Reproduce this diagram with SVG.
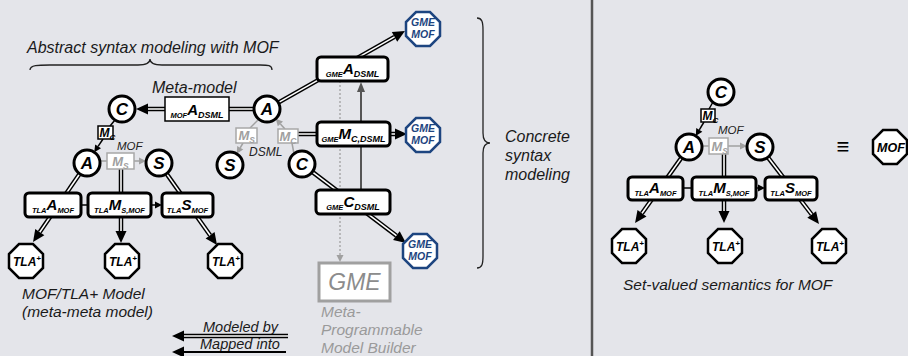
<svg xmlns="http://www.w3.org/2000/svg" xmlns:xlink="http://www.w3.org/1999/xlink" width="908" height="356" viewBox="0 0 908 356">
  <style>
    text { font-family: "Liberation Sans", Arial, sans-serif; font-style: italic; }
    .lbl { font-size: 15.5px; fill: #1a1a1a; }
    .sm { font-size: 12px; fill: #222; }
    .glbl { font-size: 15.5px; fill: #9a9a9a; }
    .circ { fill: #fff; stroke: #000; stroke-width: 3; }
    .ct { font-size: 17px; font-weight: bold; text-anchor: middle; fill: #000; }
    .box { fill: #fff; stroke: #000; stroke-width: 3; }
    .pbox { fill: #fff; stroke: #000; stroke-width: 1.5; }
    .gbox { fill: #fff; stroke: #a8a8a8; stroke-width: 1.5; }
    .bt { font-weight: bold; text-anchor: middle; fill: #000; }
    .gt { font-weight: bold; fill: #a0a0a0; }
    .pre { font-size: 7.5px; }
    .main { font-size: 15px; }
    .post { font-size: 9px; }
    .oct { fill: #fff; stroke: #000; stroke-width: 2.5; }
    .goct { fill: #fff; stroke: #1d4580; stroke-width: 2.5; }
    .ot { font-size: 12px; font-weight: bold; text-anchor: middle; fill: #000; }
    .got { font-size: 10.5px; font-weight: bold; text-anchor: middle; fill: #1d4580; }
    .dlo { stroke: #000; stroke-width: 4.5; fill: none; }
    .dli { stroke: #fff; stroke-width: 1.6; fill: none; }
    .thin { stroke: #000; stroke-width: 1.5; fill: none; }
    .gthin { stroke: #a0a0a0; stroke-width: 1.5; fill: none; }
    .brace { stroke: #222; stroke-width: 1.3; fill: none; }
  </style>
  <defs>
    <polygon id="oct" points="-7,-17 7,-17 17,-7 17,7 7,17 -7,17 -17,7 -17,-7"/>
    <marker id="ah" markerUnits="userSpaceOnUse" markerWidth="14" markerHeight="12" refX="0" refY="6" orient="auto" overflow="visible">
      <path d="M0,0.5 L12,6 L0,11.5 z" fill="#000"/>
    </marker>
    <marker id="ahs" markerUnits="userSpaceOnUse" markerWidth="8" markerHeight="8" refX="0" refY="4" orient="auto" overflow="visible">
      <path d="M0,0.5 L7,4 L0,7.5 z" fill="#000"/>
    </marker>
    <marker id="ahg" markerUnits="userSpaceOnUse" markerWidth="8" markerHeight="8" refX="0" refY="4" orient="auto" overflow="visible">
      <path d="M0,0.5 L7,4 L0,7.5 z" fill="#a0a0a0"/>
    </marker>
    <marker id="ahd" markerUnits="userSpaceOnUse" markerWidth="11" markerHeight="10" refX="0" refY="5" orient="auto" overflow="visible">
      <path d="M0,1 L10,5 L0,9 z" fill="#555"/>
    </marker>
  </defs>

  <rect width="908" height="356" fill="#e4e5ea"/>
  <!-- panel divider -->
  <line x1="592" y1="0" x2="592" y2="356" stroke="#555" stroke-width="2.5"/>

  <!-- braces and captions -->
  <g id="captions">
    <text class="lbl" x="27" y="53" style="font-size:16px">Abstract syntax modeling with MOF</text>
    <path class="brace" d="M30,70 C30,65 38,65 50,65 L138,65 C146,65 150,63 150,59 C150,63 154,65 162,65 L260,65 C268,65 272,65 272,70"/>
    <text class="lbl" x="152" y="93" style="font-size:16px">Meta-model</text>
    <path class="brace" d="M477,18 C482,18 483,22 483,30 L483,133 C483,139 485,143 490,143 C485,143 483,147 483,153 L483,256 C483,264 482,268 477,268"/>
    <text class="lbl" x="505" y="142" style="font-size:16px">Concrete</text>
    <text class="lbl" x="505" y="161" style="font-size:16px">syntax</text>
    <text class="lbl" x="505" y="180" style="font-size:16px">modeling</text>
    <text class="lbl" x="22" y="299">MOF/TLA+ Model</text>
    <text class="lbl" x="22" y="317">(meta-meta model)</text>
    <text class="sm" x="249" y="156">DSML</text>
    <text class="sm" x="117" y="150" style="font-size:11.5px">MOF</text>
    <text class="sm" x="718" y="134" style="font-size:11.5px">MOF</text>
    <text class="glbl" x="321" y="317">Meta-</text>
    <text class="glbl" x="321" y="335">Programmable</text>
    <text class="glbl" x="321" y="353">Model Builder</text>
    <text class="lbl" x="623" y="290">Set-valued semantics for MOF</text>
    <text class="lbl" x="203" y="332" style="font-size:14.5px">Modeled by</text>
    <text class="lbl" x="200" y="349" style="font-size:14.5px">Mapped into</text>
    <text x="843" y="154" style="font-size:22px;font-style:normal;font-weight:bold;text-anchor:middle">≡</text>
  </g>

  <g id="connectors">
    <!-- MOF A_DSML -> C -->
    <line class="dlo" x1="254" y1="109" x2="148" y2="109" marker-end="url(#ah)"/>
    <line class="dli" x1="254" y1="109" x2="148" y2="109"/>
    <!-- A -> GME A_DSML -> GME MOF -->
    <line class="dlo" x1="278.3" y1="102.6" x2="394.5" y2="36.9" marker-end="url(#ah)"/>
    <line class="dli" x1="278.3" y1="102.6" x2="394.5" y2="36.9"/>
    <!-- M_C -> GME M_C,DSML -> GME MOF -->
    <line class="dlo" x1="298" y1="134" x2="395" y2="134" marker-end="url(#ah)"/>
    <line class="dli" x1="298" y1="134" x2="395" y2="134"/>
    <!-- C -> GME C_DSML -> GME MOF -->
    <line class="dlo" x1="312.3" y1="171.9" x2="396.4" y2="235.7" marker-end="url(#ah)"/>
    <line class="dli" x1="312.3" y1="171.9" x2="396.4" y2="235.7"/>
    <!-- GME C_DSML -> GME A_DSML -->
    <line x1="361" y1="190" x2="361" y2="92" stroke="#555" stroke-width="2" marker-end="url(#ahd)"/>
    <!-- GME A_DSML -> GME tool -->
    <line x1="340" y1="81" x2="340" y2="255" stroke="#a0a0a0" stroke-width="1.3" stroke-dasharray="2,2" marker-end="url(#ahg)"/>
    <!-- DSML level: A -> M_S -> S, C -> M_C -> A -->
    <line class="gthin" x1="259" y1="119" x2="250" y2="128"/>
    <line class="gthin" x1="243" y1="143" x2="240.2" y2="147.8" marker-end="url(#ahg)"/>
    <line class="gthin" x1="294" y1="154" x2="292" y2="143"/>
    <line class="gthin" x1="285" y1="129" x2="280.4" y2="123.9" marker-end="url(#ahg)"/>
    <!-- MOF level (left) -->
    <line class="thin" x1="115" y1="120" x2="110" y2="126"/>
    <line class="thin" x1="103" y1="139" x2="98.1" y2="146.4" marker-end="url(#ahs)"/>
    <line class="gthin" x1="100" y1="161" x2="107" y2="161"/>
    <line class="gthin" x1="134" y1="161" x2="139" y2="161" marker-end="url(#ahg)"/>
    <line class="dlo" x1="79.7" y1="173.7" x2="39.8" y2="232.1" marker-end="url(#ah)"/>
    <line class="dli" x1="79.7" y1="173.7" x2="39.8" y2="232.1"/>
    <line class="dlo" x1="121" y1="169" x2="121" y2="231" marker-end="url(#ah)"/>
    <line class="dli" x1="121" y1="169" x2="121" y2="231"/>
    <line class="dlo" x1="166.5" y1="173.6" x2="210.1" y2="235.2" marker-end="url(#ah)"/>
    <line class="dli" x1="166.5" y1="173.6" x2="210.1" y2="235.2"/>
    <line class="thin" x1="81" y1="205" x2="88" y2="205"/>
    <line class="thin" x1="151" y1="205" x2="155" y2="205" marker-end="url(#ahs)"/>
    <!-- MOF level (right) -->
    <line class="thin" x1="713" y1="102" x2="709" y2="109"/>
    <line class="thin" x1="704" y1="122" x2="699.3" y2="129.9" marker-end="url(#ahs)"/>
    <line class="gthin" x1="702" y1="146" x2="709" y2="146"/>
    <line class="gthin" x1="728" y1="146" x2="740" y2="146" marker-end="url(#ahg)"/>
    <line class="dlo" x1="681.5" y1="157.6" x2="642" y2="213.2" marker-end="url(#ah)"/>
    <line class="dli" x1="681.5" y1="157.6" x2="642" y2="213.2"/>
    <line class="dlo" x1="724" y1="154" x2="724" y2="211" marker-end="url(#ah)"/>
    <line class="dli" x1="724" y1="154" x2="724" y2="211"/>
    <line class="dlo" x1="767.9" y1="157.3" x2="811.7" y2="214.5" marker-end="url(#ah)"/>
    <line class="dli" x1="767.9" y1="157.3" x2="811.7" y2="214.5"/>
    <line class="thin" x1="683" y1="188" x2="692" y2="188"/>
    <line class="thin" x1="756" y1="188" x2="758" y2="188" marker-end="url(#ahs)"/>
    <!-- legend -->
    <line class="dlo" x1="288" y1="336" x2="184" y2="336" marker-end="url(#ah)"/>
    <line class="dli" x1="288" y1="336" x2="184" y2="336"/>
    <line x1="286" y1="352" x2="184" y2="352" stroke="#000" stroke-width="2" marker-end="url(#ah)"/>
  </g>

  <!-- DSML meta-model -->
  <g id="c-mof"><circle class="circ" cx="122" cy="109" r="13"/><text class="ct" x="122" y="115">C</text></g>
  <g id="a-dsml"><circle class="circ" cx="267" cy="109" r="13"/><text class="ct" x="267" y="115">A</text></g>
  <g id="mof-a-dsml"><rect class="pbox" x="165" y="97" width="64" height="24"/>
    <text class="bt" x="197" y="115"><tspan class="pre" dy="3">MOF</tspan><tspan class="main" dy="-3">A</tspan><tspan class="post" dy="3">DSML</tspan></text></g>
  <g id="ms-dsml"><rect class="gbox" x="236" y="128" width="21" height="15"/>
    <text class="gt" x="238.5" y="140"><tspan style="font-size:13px">M</tspan><tspan style="font-size:8.5px" dy="2.5">S</tspan></text></g>
  <g id="mc-dsml"><rect class="gbox" x="278" y="129" width="20" height="14"/>
    <text class="gt" x="279.5" y="141"><tspan style="font-size:13px">M</tspan><tspan style="font-size:8.5px" dy="2.5">C</tspan></text></g>
  <g id="s-dsml"><circle class="circ" cx="230" cy="165" r="13"/><text class="ct" x="230" y="171">S</text></g>
  <g id="c-dsml"><circle class="circ" cx="302" cy="164" r="13"/><text class="ct" x="302" y="170">C</text></g>

  <!-- GME side -->
  <g id="gme-a-dsml"><rect class="box" x="317" y="57" width="71" height="24" rx="4"/>
    <text class="bt" x="352.5" y="74"><tspan class="pre" dy="3">GME</tspan><tspan class="main" dy="-3">A</tspan><tspan class="post" dy="3">DSML</tspan></text></g>
  <g id="gme-mc-dsml"><rect class="box" x="317" y="122" width="73" height="24" rx="4"/>
    <text class="bt" x="353.5" y="139"><tspan class="pre" dy="3">GME</tspan><tspan class="main" dy="-3">M</tspan><tspan class="post" dy="3">C,DSML</tspan></text></g>
  <g id="gme-c-dsml"><rect class="box" x="316" y="190" width="74" height="24" rx="4"/>
    <text class="bt" x="353" y="207"><tspan class="pre" dy="3">GME</tspan><tspan class="main" dy="-3">C</tspan><tspan class="post" dy="3">DSML</tspan></text></g>
  <g id="gme-mof-1"><use xlink:href="#oct" x="423" y="29" class="goct"/>
    <text class="got" x="423" y="26">GME</text><text class="got" x="423" y="38">MOF</text></g>
  <g id="gme-mof-2"><use xlink:href="#oct" x="423" y="135" class="goct"/>
    <text class="got" x="423" y="132">GME</text><text class="got" x="423" y="144">MOF</text></g>
  <g id="gme-mof-3"><use xlink:href="#oct" x="420" y="251" class="goct"/>
    <text class="got" x="420" y="248">GME</text><text class="got" x="420" y="260">MOF</text></g>
  <g id="gme-tool"><rect x="319" y="263" width="71" height="38" fill="#fff" stroke="#a0a0a0" stroke-width="3"/>
    <text x="354.5" y="290" style="font-size:23px;fill:#8c8c8c;text-anchor:middle">GME</text></g>

  <!-- MOF/TLA+ model (left) -->
  <g id="mc-mof"><rect class="pbox" x="98" y="126" width="15" height="13"/>
    <text class="bt" x="99.5" y="137" style="text-anchor:start"><tspan style="font-size:12px">M</tspan><tspan style="font-size:8px" dy="3">C</tspan></text></g>
  <g id="a-mof"><circle class="circ" cx="87" cy="163" r="13"/><text class="ct" x="87" y="169">A</text></g>
  <g id="ms-mof"><rect class="gbox" x="107" y="153" width="27" height="16"/>
    <text class="gt" x="120.5" y="166" style="text-anchor:middle"><tspan style="font-size:13px">M</tspan><tspan style="font-size:8.5px" dy="2.5">S</tspan></text></g>
  <g id="s-mof"><circle class="circ" cx="159" cy="163" r="13"/><text class="ct" x="159" y="169">S</text></g>
  <g id="tla-a-mof"><rect class="box" x="25" y="193" width="56" height="24" rx="4"/>
    <text class="bt" x="53" y="210"><tspan class="pre" dy="3">TLA</tspan><tspan class="main" dy="-3">A</tspan><tspan class="pre" dy="3">MOF</tspan></text></g>
  <g id="tla-ms-mof"><rect class="box" x="88" y="193" width="63" height="24" rx="4"/>
    <text class="bt" x="119.5" y="210"><tspan class="pre" dy="3">TLA</tspan><tspan class="main" dy="-3">M</tspan><tspan class="pre" dy="3">S,MOF</tspan></text></g>
  <g id="tla-s-mof"><rect class="box" x="162" y="193" width="51" height="24" rx="4"/>
    <text class="bt" x="187.5" y="210"><tspan class="pre" dy="3">TLA</tspan><tspan class="main" dy="-3">S</tspan><tspan class="pre" dy="3">MOF</tspan></text></g>
  <g id="tla-1"><use xlink:href="#oct" x="26" y="261" class="oct"/>
    <text class="ot" x="27" y="265.5">TLA<tspan style="font-size:8px" dy="-5">+</tspan></text></g>
  <g id="tla-2"><use xlink:href="#oct" x="122" y="261" class="oct"/>
    <text class="ot" x="123" y="265.5">TLA<tspan style="font-size:8px" dy="-5">+</tspan></text></g>
  <g id="tla-3"><use xlink:href="#oct" x="225" y="261" class="oct"/>
    <text class="ot" x="226" y="265.5">TLA<tspan style="font-size:8px" dy="-5">+</tspan></text></g>

  <!-- Set-valued semantics (right) -->
  <g id="c-r"><circle class="circ" cx="721" cy="92" r="13"/><text class="ct" x="721" y="98">C</text></g>
  <g id="mc-r"><rect class="pbox" x="701" y="109" width="14" height="13"/>
    <text class="bt" x="702.5" y="120" style="text-anchor:start"><tspan style="font-size:12px">M</tspan><tspan style="font-size:8px" dy="3">C</tspan></text></g>
  <g id="a-r"><circle class="circ" cx="689" cy="147" r="13"/><text class="ct" x="689" y="153">A</text></g>
  <g id="ms-r"><rect class="gbox" x="709" y="138" width="19" height="16"/>
    <text class="gt" x="711.5" y="151"><tspan style="font-size:13px">M</tspan><tspan style="font-size:8.5px" dy="2.5">S</tspan></text></g>
  <g id="s-r"><circle class="circ" cx="760" cy="147" r="13"/><text class="ct" x="760" y="153">S</text></g>
  <g id="tla-a-r"><rect class="box" x="628" y="177" width="55" height="23" rx="4"/>
    <text class="bt" x="655.5" y="193"><tspan class="pre" dy="3">TLA</tspan><tspan class="main" dy="-3">A</tspan><tspan class="pre" dy="3">MOF</tspan></text></g>
  <g id="tla-ms-r"><rect class="box" x="692" y="177" width="64" height="23" rx="4"/>
    <text class="bt" x="724" y="193"><tspan class="pre" dy="3">TLA</tspan><tspan class="main" dy="-3">M</tspan><tspan class="pre" dy="3">S,MOF</tspan></text></g>
  <g id="tla-s-r"><rect class="box" x="765" y="177" width="52" height="23" rx="4"/>
    <text class="bt" x="791" y="193"><tspan class="pre" dy="3">TLA</tspan><tspan class="main" dy="-3">S</tspan><tspan class="pre" dy="3">MOF</tspan></text></g>
  <g id="tla-r1"><use xlink:href="#oct" x="629" y="246" class="oct"/>
    <text class="ot" x="630" y="250.5">TLA<tspan style="font-size:8px" dy="-5">+</tspan></text></g>
  <g id="tla-r2"><use xlink:href="#oct" x="725" y="246" class="oct"/>
    <text class="ot" x="726" y="250.5">TLA<tspan style="font-size:8px" dy="-5">+</tspan></text></g>
  <g id="tla-r3"><use xlink:href="#oct" x="829" y="246" class="oct"/>
    <text class="ot" x="830" y="250.5">TLA<tspan style="font-size:8px" dy="-5">+</tspan></text></g>
  <g id="mof-r"><use xlink:href="#oct" x="890" y="147" class="oct"/>
    <text class="ot" x="891" y="151.5" style="font-size:12.5px">MOF</text></g>
</svg>
